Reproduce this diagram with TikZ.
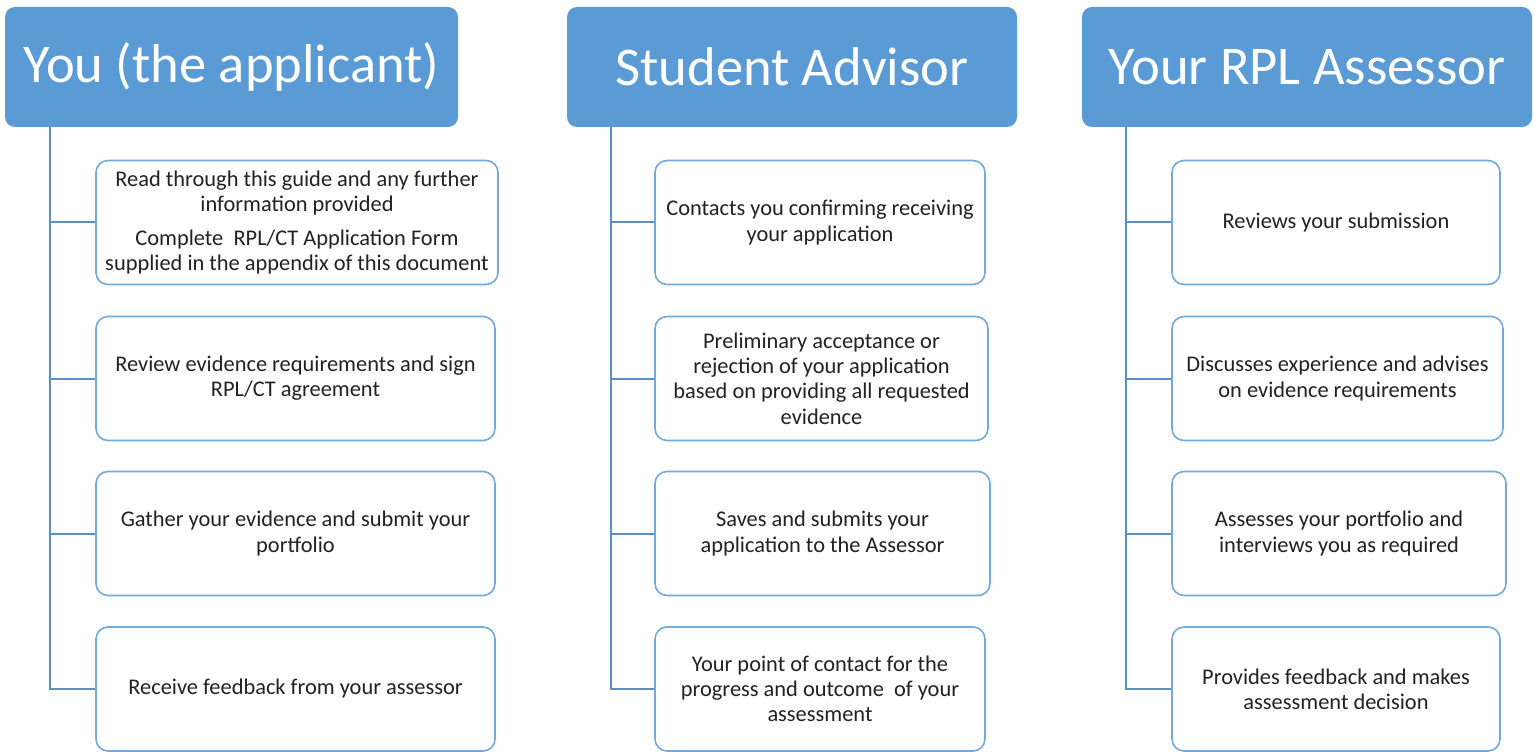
\documentclass[tikz,border=0pt]{standalone}
\usepackage{fontspec}
\setmainfont{Carlito}
\definecolor{hdblue}{HTML}{5B9BD5}
\definecolor{lnblue}{HTML}{5B8FC7}
\definecolor{txgray}{HTML}{222222}
\tikzset{
	head/.style={fill=hdblue, draw=none, rounded corners=5pt, text=white, inner sep=0pt,
		minimum height=60pt, font=\fontsize{27.3}{32}\selectfont},
	item/.style={draw=hdblue!85, line width=0.8pt, fill=white, rounded corners=6pt, inner sep=0pt,
		minimum height=62pt, align=center, text=txgray, font=\fontsize{11.2}{12.6}\selectfont},
	link/.style={draw=lnblue, line width=1pt}
}

\begin{document}
\begin{tikzpicture}[x=0.5pt, y=-0.5pt]
		%%%%% START %%%%%
		\useasboundingbox (0,0) rectangle (1535,754);
		
		% headers
		\node[head, minimum width=226.5pt] (you) at (231.5, 67) {You (the applicant)};
		\node[head, minimum width=225pt] (adv) at (792, 67) {Student Advisor};
		\node[head, minimum width=225pt] (ass) at (1307, 67) {Your RPL Assessor};
		
		% applicant steps
		\node[item, minimum width=201pt] (you1) at (297, 222.5) {Read through this guide and any further\\information provided\\[4pt]Complete \ RPL/CT Application Form\\supplied in the appendix of this document};
		\node[item, minimum width=199.5pt] (you2) at (295.5, 378.5) {Review evidence requirements and sign\\RPL/CT agreement};
		\node[item, minimum width=199.5pt] (you3) at (295.5, 533.5) {Gather your evidence and submit your\\portfolio};
		\node[item, minimum width=199.5pt] (you4) at (295.5, 689) {Receive feedback from your assessor};
		
		% advisor steps
		\node[item, minimum width=165pt] (adv1) at (820, 222.5) {Contacts you confirming receiving\\your application};
		\node[item, minimum width=166.5pt] (adv2) at (821.5, 378.5) {Preliminary acceptance or\\rejection of your application\\based on providing all requested\\evidence};
		\node[item, minimum width=167.5pt] (adv3) at (822.5, 533.5) {Saves and submits your\\application to the Assessor};
		\node[item, minimum width=165pt] (adv4) at (820, 689) {Your point of contact for the\\progress and outcome \ of your\\assessment};
		
		% assessor steps
		\node[item, minimum width=164pt] (ass1) at (1336, 222.5) {Reviews your submission};
		\node[item, minimum width=165.5pt] (ass2) at (1337.5, 378.5) {Discusses experience and advises\\on evidence requirements};
		\node[item, minimum width=167pt] (ass3) at (1339, 533.5) {Assesses your portfolio and\\interviews you as required};
		\node[item, minimum width=164pt] (ass4) at (1336, 689) {Provides feedback and makes\\assessment decision};
		
		% connectors
		\coordinate (youend) at (50, 689);
		\coordinate (advend) at (611, 689);
		\coordinate (assend) at (1126, 689);
		
		\draw[link] (youend |- you.south) -- (youend) -- (you4.west);
		\draw[link] (youend |- you1.west) -- (you1.west);
		\draw[link] (youend |- you2.west) -- (you2.west);
		\draw[link] (youend |- you3.west) -- (you3.west);
		
		\draw[link] (advend |- adv.south) -- (advend) -- (adv4.west);
		\draw[link] (advend |- adv1.west) -- (adv1.west);
		\draw[link] (advend |- adv2.west) -- (adv2.west);
		\draw[link] (advend |- adv3.west) -- (adv3.west);
		
		\draw[link] (assend |- ass.south) -- (assend) -- (ass4.west);
		\draw[link] (assend |- ass1.west) -- (ass1.west);
		\draw[link] (assend |- ass2.west) -- (ass2.west);
		\draw[link] (assend |- ass3.west) -- (ass3.west);
		%%%%% END %%%%%
\end{tikzpicture}
\end{document}
